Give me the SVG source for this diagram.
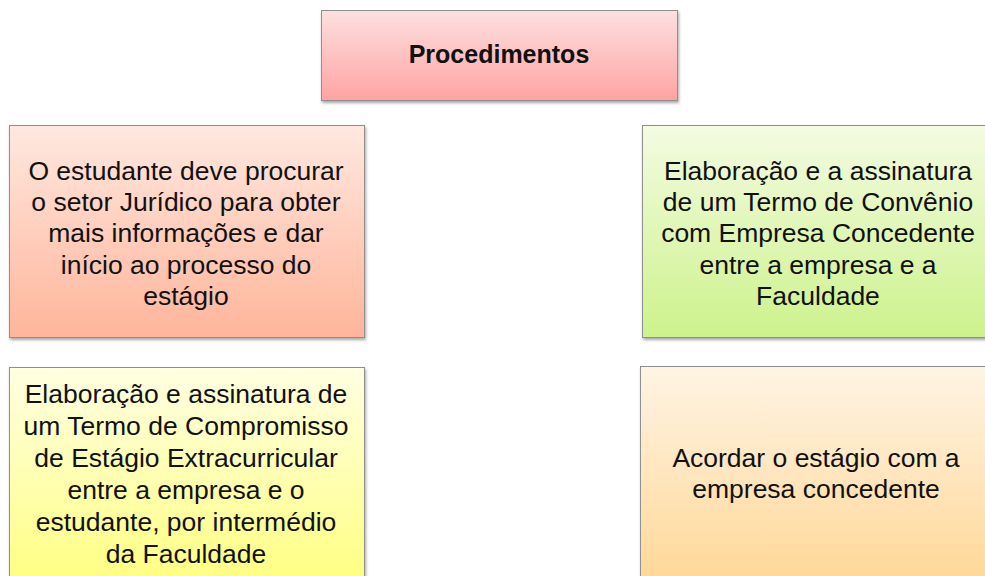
<svg xmlns="http://www.w3.org/2000/svg" width="985" height="576" viewBox="0 0 985 576">
<defs>
<linearGradient id="gTop" x1="0" y1="0" x2="0" y2="1"><stop offset="0" stop-color="#fde0e0"/><stop offset="1" stop-color="#ffa3a3"/></linearGradient>
<linearGradient id="gL1" x1="0" y1="0" x2="0" y2="1"><stop offset="0" stop-color="#ffe8e0"/><stop offset="1" stop-color="#ffb59a"/></linearGradient>
<linearGradient id="gR1" x1="0" y1="0" x2="0" y2="1"><stop offset="0" stop-color="#f4fbe2"/><stop offset="1" stop-color="#cdf28c"/></linearGradient>
<linearGradient id="gL2" x1="0" y1="0" x2="0" y2="1"><stop offset="0" stop-color="#ffffe2"/><stop offset="1" stop-color="#ffff80"/></linearGradient>
<linearGradient id="gR2" x1="0" y1="0" x2="0" y2="1"><stop offset="0" stop-color="#fff4e4"/><stop offset="1" stop-color="#ffd796"/></linearGradient>
<filter id="sh" x="-5%" y="-5%" width="110%" height="115%"><feDropShadow dx="1" dy="2" stdDeviation="1.5" flood-color="#000" flood-opacity="0.35"/></filter>
</defs>
<style>
.box{stroke:#8f8f8f;stroke-width:1;filter:url(#sh)}
.t{font-family:"Liberation Sans",Arial,sans-serif;font-size:26.5px;fill:#111;text-anchor:middle}
.b{font-weight:bold;font-size:25px}
</style>
<rect width="985" height="576" fill="#fff"/>
<g id="node-top">
<rect class="box" x="321.5" y="10.5" width="356" height="90" fill="url(#gTop)"/>
<text class="t b" x="499" y="63">Procedimentos</text>
</g>
<g id="node-left1">
<rect class="box" x="9.5" y="125.5" width="355" height="212" fill="url(#gL1)"/>
<text class="t" x="186"><tspan x="186" y="180">O estudante deve procurar</tspan><tspan x="186" y="211">o setor Jurídico para obter</tspan><tspan x="186" y="242">mais informações e dar</tspan><tspan x="186" y="274">início ao processo do</tspan><tspan x="186" y="305">estágio</tspan></text>
</g>
<g id="node-right1">
<rect class="box" x="642.5" y="125.5" width="350" height="212" fill="url(#gR1)"/>
<text class="t" x="818"><tspan x="818" y="180">Elaboração e a assinatura</tspan><tspan x="818" y="211">de um Termo de Convênio</tspan><tspan x="818" y="242">com Empresa Concedente</tspan><tspan x="818" y="274">entre a empresa e a</tspan><tspan x="818" y="305">Faculdade</tspan></text>
</g>
<g id="node-left2">
<rect class="box" x="9.5" y="367.5" width="355" height="220" fill="url(#gL2)"/>
<text class="t" x="186"><tspan x="186" y="403">Elaboração e assinatura de</tspan><tspan x="186" y="435">um Termo de Compromisso</tspan><tspan x="186" y="467">de Estágio Extracurricular</tspan><tspan x="186" y="499">entre a empresa e o</tspan><tspan x="186" y="531">estudante, por intermédio</tspan><tspan x="186" y="563">da Faculdade</tspan></text>
</g>
<g id="node-right2">
<rect class="box" x="640.5" y="366.5" width="352" height="220" fill="url(#gR2)"/>
<text class="t" x="816"><tspan x="816" y="467">Acordar o estágio com a</tspan><tspan x="816" y="498">empresa concedente</tspan></text>
</g>
<g id="connectors"/>
</svg>
